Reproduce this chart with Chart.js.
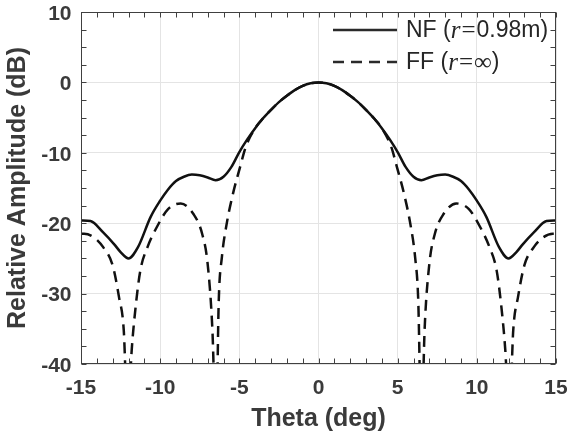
<!DOCTYPE html>
<html>
<head>
<meta charset="utf-8">
<script src="https://cdn.jsdelivr.net/npm/chart.js@4.4.1/dist/chart.umd.min.js"></script>
<style>
  html, body { margin: 0; padding: 0; background: #fff; }
  #chart-wrapper { width: 567px; height: 440px; }
</style>
</head>
<body>
<div id="chart-wrapper">
  <canvas id="myChart" width="567" height="440"></canvas>
</div>
<script>
// near field pattern (solid)
const nfTheta = [-15, -14.4, -13.6, -12.9, -12.5, -12.0, -11.4, -10.6, -10.0, -9.5, -9.0, -8.5, -8.0, -7.5, -7.0, -6.5, -6.0, -5.5, -5.0, -4.5, -4.0, -3.5, -3.0, -2.5, -2.0, -1.5, -1.0, -0.5, 0,
  0.5, 1.0, 1.5, 2.0, 2.5, 3.0, 3.5, 4.0, 4.5, 5.0, 5.5, 6.0, 6.5, 7.0, 7.5, 8.0, 8.5, 9.0, 9.5, 10.0, 10.6, 11.4, 12.0, 12.5, 12.9, 13.6, 14.4, 15];
const nfAmp = [-19.6, -19.7, -21.3, -23.0, -24.1, -25.0, -23.4, -19.1, -16.8, -15.2, -14.0, -13.4, -13.1, -13.2, -13.5, -13.9, -13.4, -12.0, -9.9, -8.1, -6.5, -5.1, -3.9, -2.8, -1.9, -1.1, -0.5, -0.12, 0,
  -0.12, -0.5, -1.1, -1.9, -2.8, -3.9, -5.1, -6.5, -8.1, -9.9, -12.0, -13.4, -13.9, -13.5, -13.2, -13.1, -13.4, -14.0, -15.2, -16.8, -19.1, -23.4, -25.0, -24.1, -23.0, -21.3, -19.7, -19.6];

// far field pattern (dashed)
const ffTheta = [-15, -14.8, -14.2, -13.6, -13.0, -12.6, -12.3, -12.05, -11.8, -11.55, -11.25, -10.8, -10.2, -9.5, -8.7, -7.9, -7.35, -7.0, -6.7, -6.47, -6.3, -6.1, -5.8, -5.4, -4.95, -4.6, -4.0, -3.5, -3.0, -2.5, -2.0, -1.5, -1.0, -0.5, 0,
  0.5, 1.0, 1.5, 2.0, 2.5, 3.0, 3.5, 4.0, 4.6, 4.95, 5.4, 5.8, 6.1, 6.3, 6.5, 6.7, 7.0, 7.35, 7.9, 8.7, 9.5, 10.2, 10.8, 11.25, 11.55, 11.8, 12.05, 12.3, 12.6, 13.0, 13.6, 14.2, 14.8, 15];
const ffAmp = [-21.5, -21.5, -22.0, -23.4, -26.0, -30.5, -35.2, -48, -38.1, -31.9, -26.7, -23.4, -20.5, -18.0, -17.2, -18.7, -21.5, -25.8, -35.2, -50, -31.0, -24.8, -20.1, -15.8, -12.0, -9.2, -6.5, -5.1, -3.9, -2.8, -1.9, -1.1, -0.5, -0.12, 0,
  -0.12, -0.5, -1.1, -1.9, -2.8, -3.9, -5.1, -6.5, -9.2, -12.0, -15.8, -20.1, -24.8, -31.0, -50, -35.2, -25.8, -21.5, -18.7, -17.2, -18.0, -20.5, -23.4, -26.7, -31.9, -38.1, -48, -35.2, -30.5, -26.0, -23.4, -22.0, -21.5, -21.5];

const xTicks = [-15, -10, -5, 0, 5, 10, 15];
const yTicks = [-40, -30, -20, -10, 0, 10];

// legend text pieces: [text, style]  (i = italic serif, s = serif)
const legendNF = [['NF (', ''], ['r', 'i'], ['=', 's'], ['0.98m)', '']];
const legendFF = [['FF (', ''], ['r', 'i'], ['=', 's'], ['\u221E', 's'], [')', '']];

const AXIS_COLOR = '#404040';
const TEXT_COLOR = '#3a3a3a';
const LINE_COLOR = '#111111';

const toXY = (xs, ys) => xs.map((v, i) => ({ x: v, y: ys[i] }));

// drop the label overhang padding so the plot box sits where we put it
const noPad = (s) => {
  s.paddingTop = 0; s.paddingBottom = 0; s.paddingLeft = 0; s.paddingRight = 0;
};

const frame = {
  id: 'frame',
  afterDraw(chart) {
    const { ctx, chartArea: a, scales } = chart;
    const l = Math.round(a.left) + 0.5, r = Math.round(a.right) - 0.5;
    const t = Math.round(a.top) + 0.5, b = Math.round(a.bottom) - 0.5;
    ctx.save();
    ctx.strokeStyle = AXIS_COLOR;
    ctx.lineWidth = 1;
    ctx.strokeRect(l, t, r - l, b - t);
    const tl = 5;
    ctx.beginPath();
    for (let v = -15; v <= 15; v += 1) {
      const px = Math.round(scales.x.getPixelForValue(v)) + 0.5;
      ctx.moveTo(px, b); ctx.lineTo(px, b - tl);
      ctx.moveTo(px, t); ctx.lineTo(px, t + tl);
    }
    for (let v = -40; v <= 10; v += 2.5) {
      const py = Math.round(scales.y.getPixelForValue(v)) + 0.5;
      ctx.moveTo(l, py); ctx.lineTo(l + tl, py);
      ctx.moveTo(r, py); ctx.lineTo(r - tl, py);
    }
    ctx.stroke();
    ctx.restore();
  }
};

const legendBox = {
  id: 'legendBox',
  afterDraw(chart) {
    const { ctx } = chart;
    const rows = [
      { parts: legendNF, dash: [], y: 30 },
      { parts: legendFF, dash: [11, 7], y: 62 },
    ];
    ctx.save();
    rows.forEach((row) => {
      ctx.strokeStyle = '#2a2a2a';
      ctx.lineWidth = 2.5;
      ctx.setLineDash(row.dash);
      ctx.beginPath();
      ctx.moveTo(333, row.y);
      ctx.lineTo(397, row.y);
      ctx.stroke();
      ctx.setLineDash([]);
      ctx.fillStyle = '#262626';
      ctx.textBaseline = 'middle';
      let x = 406;
      row.parts.forEach(([txt, kind]) => {
        if (kind === 'i') ctx.font = 'italic 25px "Liberation Serif"';
        else if (kind === 's') ctx.font = '25px "Liberation Serif"';
        else ctx.font = '23px "Liberation Sans"';
        const pad = txt === '=' ? 1 : 0;
        x += pad;
        ctx.fillText(txt, x, row.y + 1);
        x += ctx.measureText(txt).width + pad;
      });
    });
    ctx.restore();
  }
};

const ctx = document.getElementById('myChart').getContext('2d');
new Chart(ctx, {
  type: 'line',
  data: {
    datasets: [
      {
        label: 'NF (r=0.98m)',
        data: toXY(nfTheta, nfAmp),
        borderColor: LINE_COLOR,
        borderWidth: 2.5,
        pointRadius: 0,
        cubicInterpolationMode: 'monotone',
        fill: false,
      },
      {
        label: 'FF (r=\u221E)',
        data: toXY(ffTheta, ffAmp),
        borderColor: LINE_COLOR,
        borderWidth: 2.5,
        borderDash: [11, 7],
        pointRadius: 0,
        cubicInterpolationMode: 'monotone',
        fill: false,
      },
    ],
  },
  options: {
    responsive: false,
    animation: false,
    layout: { padding: { left: 0, right: 11, top: 12, bottom: 0 } },
    plugins: {
      legend: { display: false },
      tooltip: { enabled: false },
    },
    scales: {
      x: {
        type: 'linear',
        min: -15,
        max: 15,
        afterBuildTicks: (s) => { s.ticks = xTicks.map((v) => ({ value: v })); },
        afterFit: (s) => { s.height = 76; noPad(s); },
        border: { display: false },
        grid: { color: '#e4e4e4', drawTicks: false },
        ticks: {
          padding: 12,
          color: TEXT_COLOR,
          font: { family: 'Liberation Sans', size: 21, weight: 'bold' },
        },
        title: {
          display: true,
          text: 'Theta (deg)',
          color: TEXT_COLOR,
          padding: { top: 0, bottom: 6 },
          font: { family: 'Liberation Sans', size: 25, weight: 'bold' },
        },
      },
      y: {
        type: 'linear',
        min: -40,
        max: 10,
        afterBuildTicks: (s) => { s.ticks = yTicks.map((v) => ({ value: v })); },
        afterFit: (s) => { s.width = 81; noPad(s); },
        border: { display: false },
        grid: { color: '#e4e4e4', drawTicks: false },
        ticks: {
          padding: 9.5,
          labelOffset: 2,
          color: TEXT_COLOR,
          font: { family: 'Liberation Sans', size: 21, weight: 'bold' },
        },
        title: {
          display: true,
          text: 'Relative Amplitude (dB)',
          color: TEXT_COLOR,
          padding: { top: 3, bottom: 0 },
          font: { family: 'Liberation Sans', size: 25, weight: 'bold' },
        },
      },
    },
  },
  plugins: [frame, legendBox],
});
</script>
</body>
</html>
